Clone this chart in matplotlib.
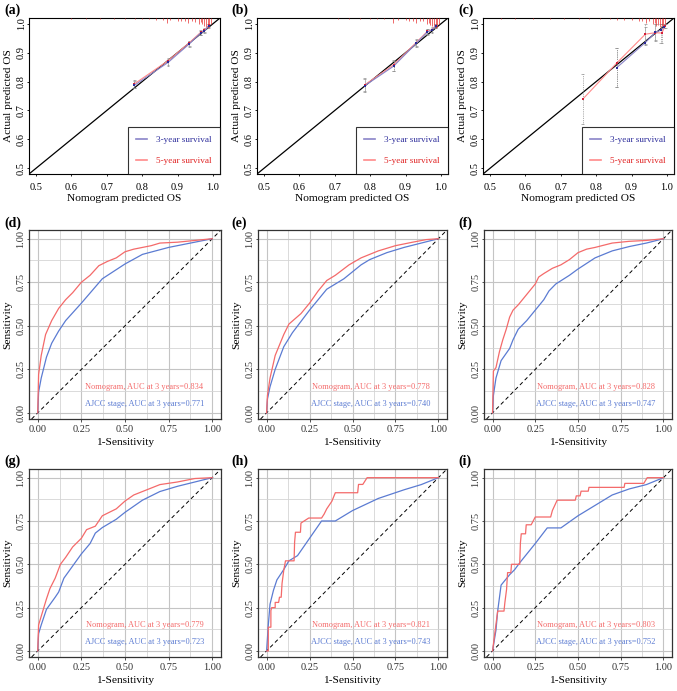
import matplotlib
matplotlib.use("Agg")
import matplotlib.pyplot as plt
from matplotlib.lines import Line2D
from matplotlib.ticker import MultipleLocator

plt.rcParams['font.family'] = ['Liberation Serif', 'DejaVu Serif']

W, H = 677, 691

# ---------------- calibration data ----------------
calib_pred3 = {
    'a': [0.778, 0.873, 0.933, 0.965, 0.976, 0.988],
    'b': [0.785, 0.866, 0.930, 0.962, 0.975, 0.985],
    'c': [0.858, 0.939, 0.967, 0.983, 0.993],
}
calib_obs3 = {
    'a': [0.787, 0.866, 0.930, 0.968, 0.975, 0.993],
    'b': [0.786, 0.853, 0.932, 0.972, 0.978, 0.992],
    'c': [0.848, 0.935, 0.970, 0.978, 0.990],
}
calib_lo3 = {
    'a': [0.776, 0.855, 0.921, 0.960, 0.968, 0.986],
    'b': [0.765, 0.835, 0.920, 0.962, 0.968, 0.985],
    'c': [0.782, 0.928, 0.945, 0.935, 0.985],
}
calib_hi3 = {
    'a': [0.802, 0.878, 0.940, 0.976, 0.983, 1.000],
    'b': [0.810, 0.872, 0.945, 0.981, 0.986, 1.000],
    'c': [0.915, 0.990, 0.998, 0.998, 1.000],
}
calib_pred5 = {
    'a': [0.778, 0.873, 0.933, 0.965, 0.976, 0.988],
    'b': [0.785, 0.866, 0.930, 0.962, 0.975, 0.985],
    'c': [0.762, 0.858, 0.939, 0.967, 0.986, 0.995],
}
calib_obs5 = {
    'a': [0.792, 0.872, 0.934, 0.970, 0.978, 0.995],
    'b': [0.789, 0.858, 0.935, 0.974, 0.980, 0.994],
    'c': [0.739, 0.864, 0.964, 0.969, 0.968, 0.994],
}
calib_lo5 = {
    'a': [0.777, 0.857, 0.922, 0.962, 0.970, 0.988],
    'b': [0.767, 0.838, 0.922, 0.964, 0.970, 0.987],
    'c': [0.653, 0.782, 0.930, 0.942, 0.935, 0.985],
}
calib_hi5 = {
    'a': [0.805, 0.882, 0.942, 0.978, 0.985, 1.000],
    'b': [0.812, 0.874, 0.947, 0.983, 0.988, 1.000],
    'c': [0.827, 0.915, 1.000, 1.000, 0.998, 1.000],
}
rug_x = {
    'a': [0.60, 0.64, 0.68, 0.72, 0.75, 0.78, 0.80, 0.82, 0.84, 0.86, 0.869, 0.88, 0.90, 0.91, 0.92,
          0.93, 0.94, 0.95, 0.96, 0.965, 0.97, 0.975, 0.98, 0.985, 0.99, 0.995],
    'b': [0.71, 0.74, 0.77, 0.80, 0.82, 0.84, 0.865, 0.88, 0.90, 0.91, 0.92, 0.93, 0.94, 0.95,
          0.96, 0.965, 0.97, 0.975, 0.98, 0.985, 0.99, 0.995],
    'c': [0.53, 0.57, 0.62, 0.67, 0.71, 0.75, 0.78, 0.81, 0.84, 0.86, 0.88, 0.90, 0.92, 0.93,
          0.94, 0.95, 0.96, 0.965, 0.97, 0.975, 0.98, 0.985, 0.99, 0.995],
}
rug_h = {
    'a': [0.002, 0.002, 0.003, 0.003, 0.004, 0.004, 0.005, 0.005, 0.006, 0.008, 0.018, 0.008, 0.009,
          0.010, 0.012, 0.016, 0.010, 0.013, 0.020, 0.015, 0.022, 0.026, 0.030, 0.034, 0.030, 0.022],
    'b': [0.002, 0.002, 0.003, 0.003, 0.004, 0.005, 0.018, 0.006, 0.008, 0.010, 0.012, 0.016, 0.010,
          0.012, 0.020, 0.016, 0.024, 0.028, 0.032, 0.036, 0.030, 0.020],
    'c': [0.002, 0.002, 0.002, 0.003, 0.003, 0.003, 0.004, 0.004, 0.005, 0.006, 0.006, 0.008, 0.010,
          0.012, 0.016, 0.012, 0.022, 0.018, 0.028, 0.024, 0.032, 0.026, 0.030, 0.020],
}
calib_ticks = [0.5, 0.6, 0.7, 0.8, 0.9, 1.0]
calib_ticklabels = ['0.5', '0.6', '0.7', '0.8', '0.9', '1.0']
legend_labels = ['3-year survival', '5-year survival']

# ---------------- ROC data ----------------
roc_nomo_x = {
    'd': [0, 0.005, 0.02, 0.045, 0.08, 0.12, 0.16, 0.2, 0.25, 0.3, 0.35, 0.4, 0.45, 0.5, 0.55, 0.6,
          0.65, 0.7, 0.8, 0.9, 1.0],
    'e': [0, 0.005, 0.02, 0.05, 0.1, 0.13, 0.2, 0.25, 0.3, 0.35, 0.4, 0.48, 0.55, 0.65, 0.75, 0.85,
          0.93, 1.0],
    'f': [0, 0.005, 0.02, 0.04, 0.06, 0.08, 0.1, 0.12, 0.15, 0.2, 0.25, 0.27, 0.3, 0.35, 0.4, 0.45,
          0.5, 0.55, 0.6, 0.7, 0.8, 0.9, 1.0],
    'g': [0, 0.005, 0.02, 0.05, 0.07, 0.1, 0.13, 0.16, 0.2, 0.25, 0.28, 0.33, 0.37, 0.45, 0.5, 0.55,
          0.6, 0.65, 0.7, 0.8, 0.9, 1.0],
    'h': [0, 0.01, 0.01, 0.025, 0.025, 0.03, 0.05, 0.05, 0.07, 0.075, 0.085, 0.09, 0.10, 0.11, 0.16,
          0.163, 0.168, 0.197, 0.20, 0.245, 0.32, 0.335, 0.35, 0.38, 0.40, 0.53, 0.535, 0.56, 0.585, 1.0],
    'i': [0, 0.03, 0.067, 0.072, 0.082, 0.088, 0.107, 0.111, 0.159, 0.163, 0.168, 0.193, 0.197,
          0.226, 0.25, 0.34, 0.35, 0.378, 0.484, 0.49, 0.512, 0.518, 0.56, 0.564, 0.77, 0.774,
          0.885, 0.905, 1.0],
}
roc_nomo_y = {
    'd': [0, 0.22, 0.33, 0.45, 0.53, 0.60, 0.65, 0.69, 0.75, 0.79, 0.845, 0.87, 0.89, 0.925, 0.94,
          0.95, 0.96, 0.975, 0.98, 0.99, 1.0],
    'e': [0, 0.10, 0.20, 0.33, 0.45, 0.51, 0.57, 0.63, 0.70, 0.76, 0.79, 0.85, 0.89, 0.93, 0.96,
          0.98, 0.995, 1.0],
    'f': [0, 0.24, 0.26, 0.35, 0.42, 0.48, 0.55, 0.59, 0.62, 0.68, 0.74, 0.78, 0.80, 0.83, 0.85,
          0.88, 0.92, 0.94, 0.95, 0.975, 0.985, 0.99, 1.0],
    'g': [0, 0.15, 0.20, 0.30, 0.36, 0.42, 0.50, 0.54, 0.60, 0.65, 0.70, 0.72, 0.78, 0.82, 0.865,
          0.90, 0.92, 0.94, 0.96, 0.975, 0.995, 1.0],
    'h': [0, 0, 0.137, 0.137, 0.233, 0.25, 0.25, 0.28, 0.28, 0.31, 0.31, 0.39, 0.466, 0.52, 0.52,
          0.627, 0.685, 0.685, 0.738, 0.767, 0.767, 0.79, 0.82, 0.864, 0.913, 0.913, 0.961, 0.961,
          1.0, 1.0],
    'i': [0, 0.23, 0.23, 0.278, 0.355, 0.452, 0.452, 0.50, 0.50, 0.623, 0.676, 0.676, 0.728,
          0.728, 0.773, 0.773, 0.81, 0.87, 0.87, 0.895, 0.895, 0.922, 0.922, 0.944, 0.944, 0.967,
          0.967, 1.0, 1.0],
}
roc_ajcc_x = {
    'd': [0, 0.005, 0.02, 0.05, 0.08, 0.12, 0.16, 0.25, 0.37, 0.5, 0.6, 0.75, 0.9, 1.0],
    'e': [0, 0.005, 0.02, 0.05, 0.1, 0.15, 0.25, 0.3, 0.35, 0.45, 0.55, 0.6, 0.7, 0.8, 0.9, 1.0],
    'f': [0, 0.005, 0.02, 0.05, 0.1, 0.12, 0.15, 0.2, 0.25, 0.3, 0.33, 0.37, 0.45, 0.5, 0.6, 0.7,
          0.8, 0.9, 1.0],
    'g': [0, 0.005, 0.02, 0.05, 0.1, 0.12, 0.15, 0.2, 0.25, 0.3, 0.33, 0.37, 0.45, 0.5, 0.6, 0.7,
          0.8, 0.9, 1.0],
    'h': [0, 0.01, 0.02, 0.04, 0.06, 0.1, 0.13, 0.18, 0.25, 0.32, 0.4, 0.5, 0.65, 0.8, 0.9, 1.0],
    'i': [0, 0.02, 0.03, 0.05, 0.1, 0.13, 0.16, 0.25, 0.32, 0.4, 0.5, 0.6, 0.7, 0.8, 0.9, 1.0],
}
roc_ajcc_y = {
    'd': [0, 0.12, 0.20, 0.32, 0.40, 0.47, 0.53, 0.63, 0.77, 0.855, 0.91, 0.95, 0.98, 1.0],
    'e': [0, 0.08, 0.15, 0.25, 0.38, 0.46, 0.59, 0.65, 0.71, 0.77, 0.85, 0.88, 0.92, 0.95, 0.975, 1.0],
    'f': [0, 0.10, 0.20, 0.30, 0.37, 0.42, 0.48, 0.53, 0.59, 0.65, 0.70, 0.74, 0.79, 0.826, 0.89,
          0.93, 0.955, 0.975, 1.0],
    'g': [0, 0.10, 0.15, 0.24, 0.31, 0.34, 0.42, 0.49, 0.56, 0.62, 0.68, 0.712, 0.76, 0.80, 0.87,
          0.92, 0.95, 0.975, 1.0],
    'h': [0, 0.15, 0.27, 0.35, 0.41, 0.47, 0.52, 0.55, 0.65, 0.75, 0.75, 0.81, 0.88, 0.93, 0.96, 1.0],
    'i': [0, 0.12, 0.23, 0.38, 0.44, 0.47, 0.51, 0.62, 0.71, 0.71, 0.78, 0.84, 0.90, 0.935, 0.96, 1.0],
}
roc_auc_nomo = {'d': '0.834', 'e': '0.778', 'f': '0.828', 'g': '0.779', 'h': '0.821', 'i': '0.803'}
roc_auc_ajcc = {'d': '0.771', 'e': '0.740', 'f': '0.747', 'g': '0.723', 'h': '0.743', 'i': '0.752'}
roc_ticks = [0.0, 0.25, 0.5, 0.75, 1.0]
roc_ticklabels = ['0.00', '0.25', '0.50', '0.75', '1.00']

# ---------------- styling ----------------
C3_LINE = '#8a84c8'
C3_PT = '#2b2b9a'
C5_LINE = '#ff8a8a'
C5_PT = '#d2203a'
RED = '#f46a6a'
BLUE = '#5b7bd2'

fig = plt.figure(figsize=(W / 100, H / 100), dpi=100)


def add_ax(l, t, r, b):
    return fig.add_axes([l / W, 1 - b / H, (r - l) / W, (b - t) / H])


calib_cols = [(29, 220), (257, 448), (483, 674)]
roc_cols = [(29, 221), (258, 447), (484, 672)]
roc_rows = [(230, 419), (469, 657)]

label_pos = {'a': (4, 10), 'b': (231, 10), 'c': (458, 10),
             'd': (4, 223), 'e': (231, 223), 'f': (458, 223),
             'g': (4, 461), 'h': (231, 461), 'i': (458, 461)}

for k, (l, r) in zip(['a', 'b', 'c'], calib_cols):
    ax = add_ax(l, 18, r, 174)
    ax.set_xlim(0.48, 1.02)
    ax.set_ylim(0.48, 1.02)
    ax.axline((0.5, 0.5), slope=1, color='black', lw=0.9, zorder=2)
    # rug
    ax.vlines(rug_x[k], [1.02 - h for h in rug_h[k]], 1.02, color='#e83030', lw=0.5, zorder=3)
    # error bars
    for px, lo, hi in list(zip(calib_pred3[k], calib_lo3[k], calib_hi3[k])) + \
            list(zip(calib_pred5[k], calib_lo5[k], calib_hi5[k])):
        ax.vlines(px, lo, hi, color='#909090', lw=0.6, linestyles=(0, (1, 1.2)), zorder=2)
        ax.hlines([lo, hi], px - 0.004, px + 0.004, color='#909090', lw=0.5, zorder=2)
    ax.plot(calib_pred5[k], calib_obs5[k], color=C5_LINE, lw=0.8, zorder=3)
    ax.plot(calib_pred3[k], calib_obs3[k], color=C3_LINE, lw=0.8, zorder=4)
    ax.scatter(calib_pred5[k], calib_obs5[k], s=3, color=C5_PT, marker='s', lw=0, zorder=5)
    ax.scatter(calib_pred3[k], calib_obs3[k], s=3, color=C3_PT, marker='s', lw=0, zorder=6)
    ax.set_xticks(calib_ticks)
    ax.set_xticklabels(calib_ticklabels, fontsize=7.5)
    ax.set_yticks(calib_ticks)
    ax.set_yticklabels(calib_ticklabels, fontsize=7.5, rotation=90, va='center')
    ax.tick_params(axis='x', length=1.5, width=0.6, pad=5)
    ax.tick_params(axis='y', length=1.5, width=0.6, pad=0.8)
    ax.set_xlabel('Nomogram predicted OS', fontsize=8.2, labelpad=1.5)
    ax.set_ylabel('Actual predicted OS', fontsize=8.2, labelpad=2.5)
    for s in ax.spines.values():
        s.set_linewidth(0.8)
    handles = [Line2D([], [], color=C3_LINE, lw=1.2), Line2D([], [], color=C5_LINE, lw=1.2)]
    leg = ax.legend(handles, legend_labels, loc='lower right', fontsize=6.6, frameon=True,
                    fancybox=False, borderaxespad=0, handlelength=1.2, handletextpad=0.9,
                    labelspacing=1.35, borderpad=0.95)
    leg.get_frame().set_edgecolor('black')
    leg.get_frame().set_linewidth(0.8)
    for t, c in zip(leg.get_texts(), [C3_PT, '#e02020']):
        t.set_color(c)
    fig.text(label_pos[k][0] / W, 1 - label_pos[k][1] / H, f'({k})', fontsize=10,
             fontweight='bold', va='center', ha='left')

roc_keys = [['d', 'e', 'f'], ['g', 'h', 'i']]
for (t, b), keys in zip(roc_rows, roc_keys):
    for k, (l, r) in zip(keys, roc_cols):
        ax = add_ax(l, t, r, b)
        ax.set_xlim(-0.05, 1.05)
        ax.set_ylim(-0.035, 1.05)
        ax.xaxis.set_minor_locator(MultipleLocator(0.125))
        ax.yaxis.set_minor_locator(MultipleLocator(0.125))
        ax.grid(True, which='major', color='#c4c4c4', lw=0.8)
        ax.grid(True, which='minor', color='#d4d4d4', lw=0.6)
        ax.set_axisbelow(True)
        ax.tick_params(which='minor', length=0)
        ax.axline((0, 0), slope=1, color='black', lw=0.7, ls=(0, (4, 3)), zorder=2)
        ax.plot(roc_ajcc_x[k], roc_ajcc_y[k], color=BLUE, lw=0.9, zorder=3)
        ax.plot(roc_nomo_x[k], roc_nomo_y[k], color=RED, lw=0.9, zorder=4)
        ax.text(0.95, 0.15, f'Nomogram, AUC at 3 years={roc_auc_nomo[k]}', color=RED,
                fontsize=6.05, ha='right', va='center')
        ax.text(0.955, 0.05, f'AJCC stage, AUC at 3 years={roc_auc_ajcc[k]}', color=BLUE,
                fontsize=6.05, ha='right', va='center')
        ax.set_xticks(roc_ticks)
        ax.set_xticklabels(roc_ticklabels, fontsize=7.5, color='#333333')
        ax.set_yticks(roc_ticks)
        ax.set_yticklabels(roc_ticklabels, fontsize=7.5, rotation=90, va='center', color='#333333')
        ax.tick_params(axis='x', which='major', length=2.5, width=0.6, pad=1.5, color='#333333')
        ax.tick_params(axis='y', which='major', length=1.8, width=0.6, pad=0.8, color='#333333')
        ax.set_xlabel('1-Sensitivity', fontsize=8.2, labelpad=3.5)
        ax.set_ylabel('Sensitivity', fontsize=8.2, labelpad=3)
        for s in ax.spines.values():
            s.set_linewidth(0.9)
            s.set_color('#333333')
        fig.text(label_pos[k][0] / W, 1 - label_pos[k][1] / H, f'({k})', fontsize=10,
                 fontweight='bold', va='center', ha='left')

fig.savefig('out.png', dpi=100)
